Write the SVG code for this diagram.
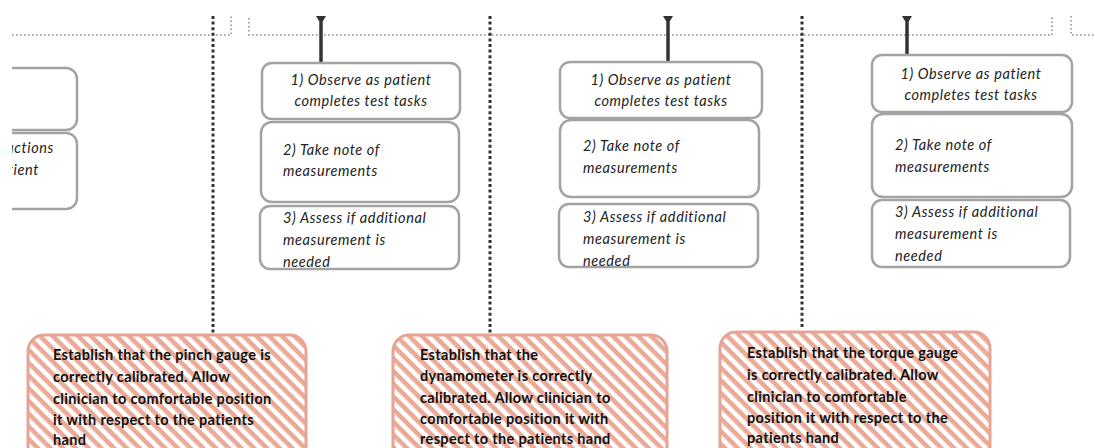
<svg xmlns="http://www.w3.org/2000/svg" width="1095" height="448" viewBox="0 0 1095 448">
  <defs>
    <pattern id="stripes" patternUnits="userSpaceOnUse" width="9" height="9" patternTransform="rotate(45)">
      <rect x="0" y="0" width="9" height="9" fill="#ffffff"/>
      <rect x="0" y="0" width="9" height="4.6" fill="#e9aa98"/>
    </pattern>
    <clipPath id="leftClip">
      <rect x="12" y="0" width="1083" height="448"/>
    </clipPath>
  </defs>
  <style>
    .step { fill: #ffffff; stroke: #a3a3a3; stroke-width: 2.5; }
    .prep { fill: url(#stripes); stroke: #e6a592; stroke-width: 3; }
    .stxt { font-family: Lato, "Open Sans", sans-serif; font-style: italic; font-size: 14.5px; letter-spacing: 0.6px; fill: #222222; }
    .ptxt { font-family: Lato, "Open Sans", sans-serif; font-weight: bold; font-size: 14.5px; letter-spacing: 0.35px; fill: #111111; }
    .lane { stroke: #333333; stroke-width: 3; stroke-dasharray: 3 2.6; fill: none; }
    .rail { stroke: #8a8a8a; stroke-width: 1.5; stroke-dasharray: 1.5 2.5; fill: none; }
    .stem { stroke: #333333; stroke-width: 3.5; }
    .cap { fill: #333333; }
  </style>

  <!-- connectors: timeline rails, lane separators, stems -->
  <g id="connectors">
    <polyline class="rail" points="12,35 231,35 231,16"/>
    <polyline class="rail" points="249,18 249,35 1052,35 1052,16"/>
    <polyline class="rail" points="1071,16 1071,35 1095,35"/>
    <line class="lane" x1="213" y1="16" x2="213" y2="334"/>
    <line class="lane" x1="490" y1="16" x2="490" y2="334"/>
    <line class="lane" x1="802" y1="16" x2="802" y2="327"/>
    <line class="stem" x1="321" y1="19" x2="321" y2="63"/>
    <path class="cap" d="M316,16 L326,16 L323,21 L319,21 Z"/>
    <line class="stem" x1="668" y1="19" x2="668" y2="62"/>
    <path class="cap" d="M663,16 L673,16 L670,21 L666,21 Z"/>
    <line class="stem" x1="907" y1="19" x2="907" y2="55"/>
    <path class="cap" d="M902,16 L912,16 L909,21 L905,21 Z"/>
  </g>

  <!-- partially visible lane on the left -->
  <g id="left-lane" clip-path="url(#leftClip)">
    <g id="left-box-a">
      <rect class="step" x="-120" y="68" width="197" height="62" rx="11"/>
    </g>
    <g id="left-box-b">
      <rect class="step" x="-120" y="133" width="197" height="76" rx="11"/>
      <text class="stxt" x="54" y="153" text-anchor="end">uctions</text>
      <text class="stxt" x="39" y="175" text-anchor="end">tient</text>
    </g>
  </g>

  <!-- pinch gauge lane -->
  <g id="pinch-observe">
    <rect class="step" x="262" y="63" width="198" height="56" rx="10"/>
    <text class="stxt" x="361" y="85" text-anchor="middle">1) Observe as patient</text>
    <text class="stxt" x="361" y="106" text-anchor="middle">completes test tasks</text>
  </g>
  <g id="pinch-note">
    <rect class="step" x="261" y="122" width="198" height="80" rx="11"/>
    <text class="stxt" x="283" y="155">2) Take note of</text>
    <text class="stxt" x="283" y="176">measurements</text>
  </g>
  <g id="pinch-assess">
    <rect class="step" x="260" y="206" width="199" height="63" rx="10"/>
    <text class="stxt" x="283" y="223">3) Assess if additional</text>
    <text class="stxt" x="283" y="245">measurement is</text>
    <text class="stxt" x="283" y="267">needed</text>
  </g>
  <g id="pinch-prep">
    <rect class="prep" x="28" y="335" width="278" height="140" rx="16"/>
    <text class="ptxt" x="53" y="360">Establish that the pinch gauge is</text>
    <text class="ptxt" x="53" y="382">correctly calibrated. Allow</text>
    <text class="ptxt" x="53" y="404">clinician to comfortable position</text>
    <text class="ptxt" x="53" y="425">it with respect to the patients</text>
    <text class="ptxt" x="53" y="445">hand</text>
  </g>

  <!-- dynamometer lane -->
  <g id="dyn-observe">
    <rect class="step" x="560" y="62" width="202" height="56" rx="10"/>
    <text class="stxt" x="661" y="85" text-anchor="middle">1) Observe as patient</text>
    <text class="stxt" x="661" y="106" text-anchor="middle">completes test tasks</text>
  </g>
  <g id="dyn-note">
    <rect class="step" x="560" y="120" width="199" height="77" rx="11"/>
    <text class="stxt" x="583" y="151">2) Take note of</text>
    <text class="stxt" x="583" y="173">measurements</text>
  </g>
  <g id="dyn-assess">
    <rect class="step" x="559" y="204" width="199" height="63" rx="10"/>
    <text class="stxt" x="583" y="222">3) Assess if additional</text>
    <text class="stxt" x="583" y="244">measurement is</text>
    <text class="stxt" x="583" y="266">needed</text>
  </g>
  <g id="dyn-prep">
    <rect class="prep" x="393" y="335" width="274" height="140" rx="16"/>
    <text class="ptxt" x="420" y="360">Establish that the</text>
    <text class="ptxt" x="420" y="381">dynamometer is correctly</text>
    <text class="ptxt" x="420" y="403">calibrated. Allow clinician to</text>
    <text class="ptxt" x="420" y="424">comfortable position it with</text>
    <text class="ptxt" x="420" y="444">respect to the patients hand</text>
  </g>

  <!-- torque gauge lane -->
  <g id="torque-observe">
    <rect class="step" x="872" y="55" width="200" height="57" rx="10"/>
    <text class="stxt" x="971" y="79" text-anchor="middle">1) Observe as patient</text>
    <text class="stxt" x="971" y="100" text-anchor="middle">completes test tasks</text>
  </g>
  <g id="torque-note">
    <rect class="step" x="872" y="114" width="200" height="83" rx="11"/>
    <text class="stxt" x="895" y="150">2) Take note of</text>
    <text class="stxt" x="895" y="172">measurements</text>
  </g>
  <g id="torque-assess">
    <rect class="step" x="872" y="200" width="198" height="67" rx="10"/>
    <text class="stxt" x="895" y="217">3) Assess if additional</text>
    <text class="stxt" x="895" y="239">measurement is</text>
    <text class="stxt" x="895" y="261">needed</text>
  </g>
  <g id="torque-prep">
    <rect class="prep" x="720" y="332" width="270" height="140" rx="16"/>
    <text class="ptxt" x="747" y="358">Establish that the torque gauge</text>
    <text class="ptxt" x="747" y="380">is correctly calibrated. Allow</text>
    <text class="ptxt" x="747" y="402">clinician to comfortable</text>
    <text class="ptxt" x="747" y="423">position it with respect to the</text>
    <text class="ptxt" x="747" y="443">patients hand</text>
  </g>
</svg>
